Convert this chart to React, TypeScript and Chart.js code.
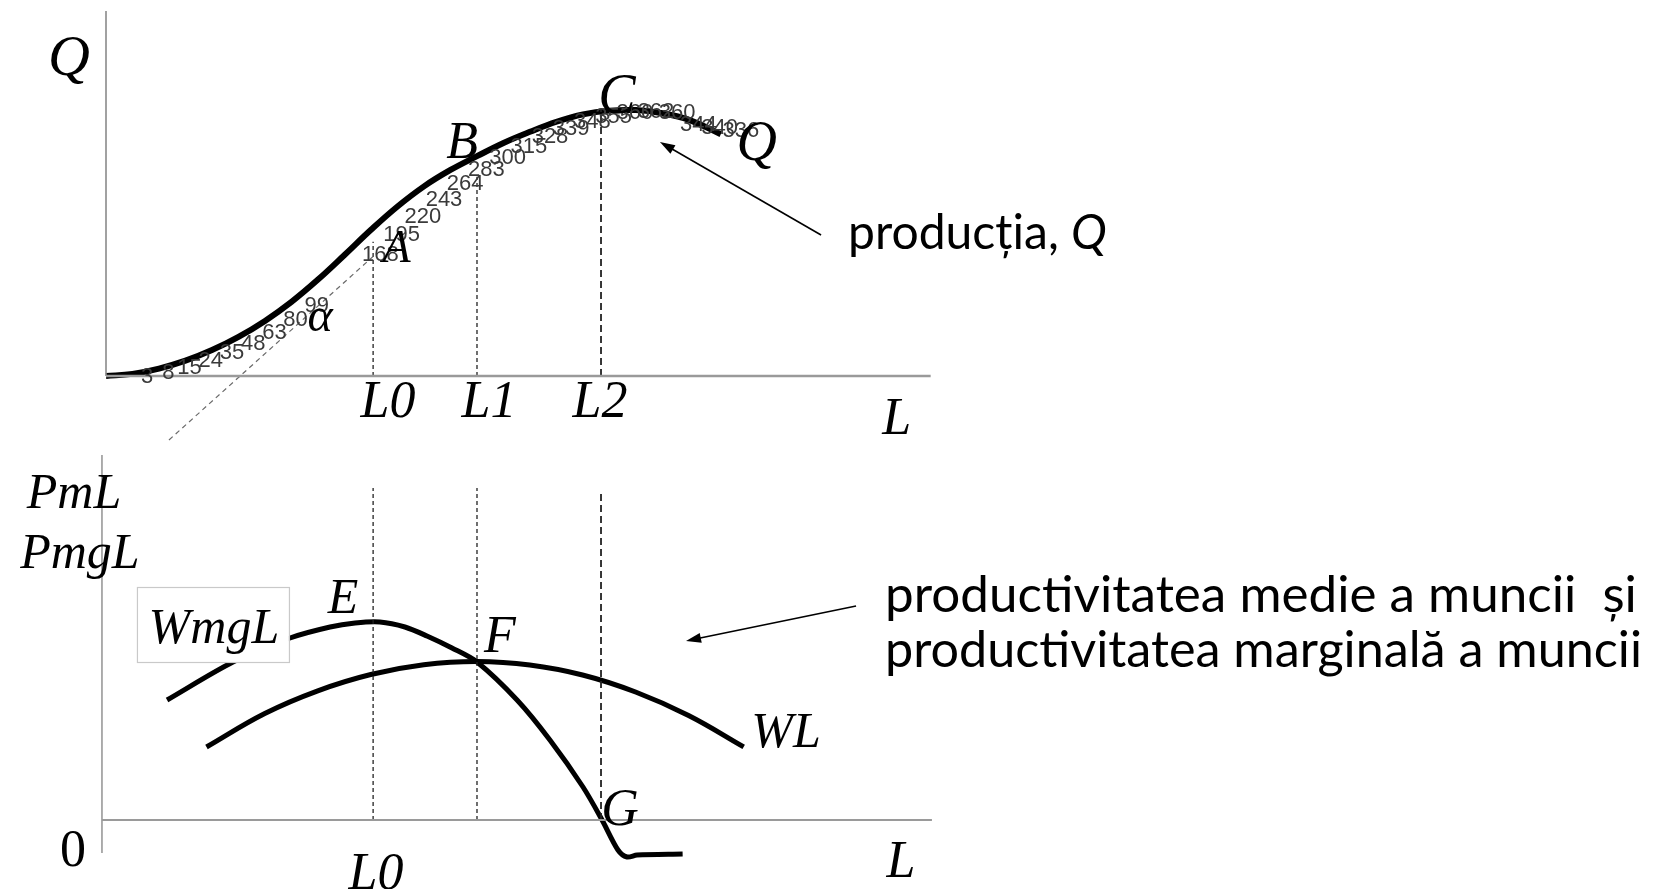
import React, { useEffect, useRef } from "react";
import Chart from "chart.js/auto";

// ---------- data ----------
// labelled output table Q(L) (values visible in the picture)
const tableL = [1, 2, 3, 4, 5, 6, 7, 8, 9, 12, 13, 14, 15, 16, 17, 18, 19, 20, 21, 22, 23, 24, 25, 26, 27, 28, 29];
const tableQ = [3, 8, 15, 24, 35, 48, 63, 80, 99, 168, 195, 220, 243, 264, 283, 300, 315, 328, 339, 348, 355, 360, 362, 360, 344, 340, 336];

// drawn production curve Q
const curveL = [0, 1.25, 2.5, 3.75, 5, 6.25, 7.5, 8.75, 10, 11.25, 12.5, 13.75, 15, 16.25, 17.5, 18.75, 20, 21.25, 22.5, 23.75, 25, 26.25, 27.5, 29];
const curveQ = [0, 2.9, 10.1, 20.8, 35.2, 53.1, 74.7, 100.5, 130.7, 164, 198.1, 229.7, 257, 279.2, 297.9, 315.8, 330.9, 344.5, 354.6, 359.6, 360.3, 356, 347.1, 327.7];

// marginal productivity WmgL
const mgL = [2.88, 5.99, 8.68, 10.57, 11.75, 12.92, 14.1, 15.14, 16.32, 17.5, 19.39, 20.94, 22.5, 23.4, 24.15, 24.58, 25.05, 27.2];
const mgP = [12.0, 15.8, 18.2, 19.3, 19.7, 19.8, 19.3, 18.4, 17.2, 15.8, 12.0, 8.0, 3.3, 0, -3.0, -3.7, -3.5, -3.4];

// average productivity WL
const avgL = [4.74, 7.49, 9.99, 12.49, 14.99, 17.49, 19.99, 22.48, 24.98, 27.48, 30.08];
const avgP = [7.3, 10.65, 12.92, 14.55, 15.52, 15.85, 15.5, 14.5, 12.8, 10.45, 7.31];

// reference levels of labour
const markNames = ["L0", "L1", "L2"];
const markL = [12.6, 17.5, 23.35];
const markTopQ = [182, 270, 362];
const markTopP = [33.2, 33.2, 33.0];

// tangent ray through A
const rayL = [2.97, 12.78];
const rayQ = [-86.7, 166.7];

const W = 1661;
const H = 889;

const pts = (xs: number[], ys: number[]) => xs.map((v, i) => ({ x: v, y: ys[i] }));

const SERIF = '"Liberation Serif", "Times New Roman", serif';

export default function App() {
  const ref = useRef<HTMLCanvasElement | null>(null);

  useEffect(() => {
    const canvas = ref.current;
    if (!canvas) return;

    const black = "#000000";
    const axisGray = "#9a9a9a";

    const datasets: any[] = [
      // top axes
      { data: pts([0, 38.9], [0, 0]), yAxisID: "y", borderColor: axisGray, borderWidth: 2.5, tension: 0 },
      { data: pts([0, 0], [0, 494.6]), yAxisID: "y", borderColor: "#8a8a8a", borderWidth: 1.6, tension: 0 },
      // bottom axes
      { data: pts([-0.19, 38.96], [0, 0]), yAxisID: "y2", borderColor: axisGray, borderWidth: 2, tension: 0 },
      { data: pts([-0.19, -0.19], [-3.3, 36.5]), yAxisID: "y2", borderColor: "#8a8a8a", borderWidth: 1.4, tension: 0 },
      // tangent ray
      { data: pts(rayL, rayQ), yAxisID: "y", borderColor: "#6a6a6a", borderWidth: 1.2, borderDash: [5, 4], tension: 0 },
    ];
    markL.forEach((l, i) => {
      const dash = i === 2 ? [7, 4] : [4, 3];
      const bw = i === 2 ? 1.8 : 1.3;
      datasets.push({ data: pts([l, l], [0, markTopQ[i]]), yAxisID: "y", borderColor: "#222", borderWidth: bw, borderDash: dash, tension: 0 });
      datasets.push({ data: pts([l, l], [0, markTopP[i]]), yAxisID: "y2", borderColor: "#222", borderWidth: bw, borderDash: dash, tension: 0 });
    });
    datasets.push(
      { label: "Q", data: pts(curveL, curveQ), yAxisID: "y", borderColor: black, borderWidth: 6, tension: 0.4, borderCapStyle: "butt" },
      { label: "WmgL", data: pts(mgL, mgP), yAxisID: "y2", borderColor: black, borderWidth: 5, tension: 0.3 },
      { label: "WL", data: pts(avgL, avgP), yAxisID: "y2", borderColor: black, borderWidth: 5, tension: 0.4 },
      { label: "table", data: pts(tableL, tableQ), yAxisID: "y", showLine: false, pointRadius: 0, borderWidth: 0 }
    );
    const tableIdx = datasets.length - 1;

    const annotate = {
      id: "annotate",
      afterDatasetsDraw(chart: any) {
        const ctx: CanvasRenderingContext2D = chart.ctx;
        const sx = chart.scales.x;
        const sq = chart.scales.y;
        const sp = chart.scales.y2;
        const X = (l: number) => sx.getPixelForValue(l);
        const Q = (q: number) => sq.getPixelForValue(q);
        const P = (p: number) => sp.getPixelForValue(p);
        ctx.save();

        // value labels of the table
        ctx.font = '22px "Liberation Sans", Arial, sans-serif';
        ctx.fillStyle = "#3a3a3a";
        ctx.textAlign = "center";
        ctx.textBaseline = "middle";
        chart.getDatasetMeta(tableIdx).data.forEach((el: any, j: number) => {
          ctx.fillText(String(tableQ[j]), el.x + 20, el.y + 3);
        });

        const it = (t: string, x: number, y: number, size: number, italic = true) => {
          ctx.font = `${italic ? "italic " : ""}${size}px ${SERIF}`;
          ctx.fillStyle = "#000";
          ctx.textAlign = "center";
          ctx.textBaseline = "alphabetic";
          ctx.fillText(t, x, y);
        };

        // WmgL box (covers the curve)
        const bx1 = X(1.46), bx2 = X(8.63), by1 = P(23.3), by2 = P(15.8);
        ctx.fillStyle = "#ffffff";
        ctx.fillRect(bx1, by1, bx2 - bx1, by2 - by1);
        ctx.strokeStyle = "#c9c9c9";
        ctx.lineWidth = 1.2;
        ctx.strokeRect(bx1 + 0.5, by1 + 0.5, bx2 - bx1, by2 - by1);

        // top diagram letters
        it("Q", X(-1.75), Q(407.9), 58);
        it("L", X(37.3), Q(-78.6), 52);
        markNames.forEach((n, i) => it(n, X([13.3, 18.07, 23.3][i]), Q(-55.6), 52));
        it("B", X(16.8), Q(295.4), 52);
        it("C", X(24.1), Q(356.4), 56);
        it("Q", X(30.7), Q(292.7), 56);
        it("α", X(10.1), Q(61), 48);
        it("A", X(13.7), Q(154.5), 46);

        // bottom diagram letters
        it("PmL", X(-1.51), P(31.2), 50);
        it("PmgL", X(-1.23), P(25.2), 50);
        it("WmgL", X(5.09), P(17.7), 50);
        it("E", X(11.18), P(20.7), 50);
        it("F", X(18.58), P(16.8), 52);
        it("G", X(24.25), P(-0.5), 52);
        it("WL", X(32.08), P(7.3), 50);
        it("0", X(-1.56), P(-4.6), 52, false);
        it("L", X(37.5), P(-5.7), 52);
        it("L0", X(12.74), P(-6.9), 52);

        // arrows
        const arrow = (x1: number, y1: number, x2: number, y2: number) => {
          ctx.strokeStyle = "#000";
          ctx.fillStyle = "#000";
          ctx.lineWidth = 1.6;
          const a = Math.atan2(y2 - y1, x2 - x1);
          const len = 15, hw = 5;
          ctx.beginPath();
          ctx.moveTo(x1, y1);
          ctx.lineTo(x2 - Math.cos(a) * len * 0.8, y2 - Math.sin(a) * len * 0.8);
          ctx.stroke();
          ctx.beginPath();
          ctx.moveTo(x2, y2);
          ctx.lineTo(x2 - Math.cos(a) * len - Math.sin(a) * hw, y2 - Math.sin(a) * len + Math.cos(a) * hw);
          ctx.lineTo(x2 - Math.cos(a) * len + Math.sin(a) * hw, y2 - Math.sin(a) * len - Math.cos(a) * hw);
          ctx.closePath();
          ctx.fill();
        };
        arrow(X(33.73), Q(191.1), X(26.13), Q(317.1));
        arrow(X(35.38), P(21.4), X(27.36), P(17.9));

        // explanatory texts (sans), fitted to their width
        const SANS = 'Lato, "Open Sans", sans-serif';
        const fit = (parts: { t: string; italic?: boolean }[], left: number, base: number, width: number) => {
          const probe = 40;
          let w = 0;
          parts.forEach((p) => {
            ctx.font = `${p.italic ? "italic " : ""}${probe}px ${SANS}`;
            w += ctx.measureText(p.t).width;
          });
          const size = (probe * width) / w;
          let cx = left;
          ctx.fillStyle = "#000";
          ctx.textAlign = "left";
          ctx.textBaseline = "alphabetic";
          parts.forEach((p) => {
            ctx.font = `${p.italic ? "italic " : ""}${size}px ${SANS}`;
            ctx.fillText(p.t, cx, base);
            cx += ctx.measureText(p.t).width;
          });
        };
        fit([{ t: "producția, " }, { t: "Q", italic: true }], X(35.0), Q(172.1), 259);
        fit([{ t: "productivitatea medie a muncii  și" }], X(36.75), P(20.8), 752);
        fit([{ t: "productivitatea marginală a muncii" }], X(36.75), P(15.3), 757);

        ctx.restore();
      },
    };

    const chart = new Chart(canvas, {
      type: "line",
      data: { datasets },
      options: {
        responsive: false,
        animation: false,
        events: [],
        layout: { padding: 0 },
        elements: { point: { radius: 0 }, line: { fill: false } },
        plugins: { legend: { display: false }, tooltip: { enabled: false } },
        scales: {
          x: { type: "linear", display: false, min: -5, max: 73.35 },
          y: { type: "linear", display: false, min: -695.1, max: 509.5 },
          y2: { type: "linear", display: false, min: -6.9, max: 82 },
        },
      },
      plugins: [annotate],
    } as any);

    return () => chart.destroy();
  }, []);

  return (
    <canvas
      ref={ref}
      width={W}
      height={H}
      style={{ position: "fixed", left: 0, top: 0, width: W, height: H, background: "#fff" }}
    />
  );
}
